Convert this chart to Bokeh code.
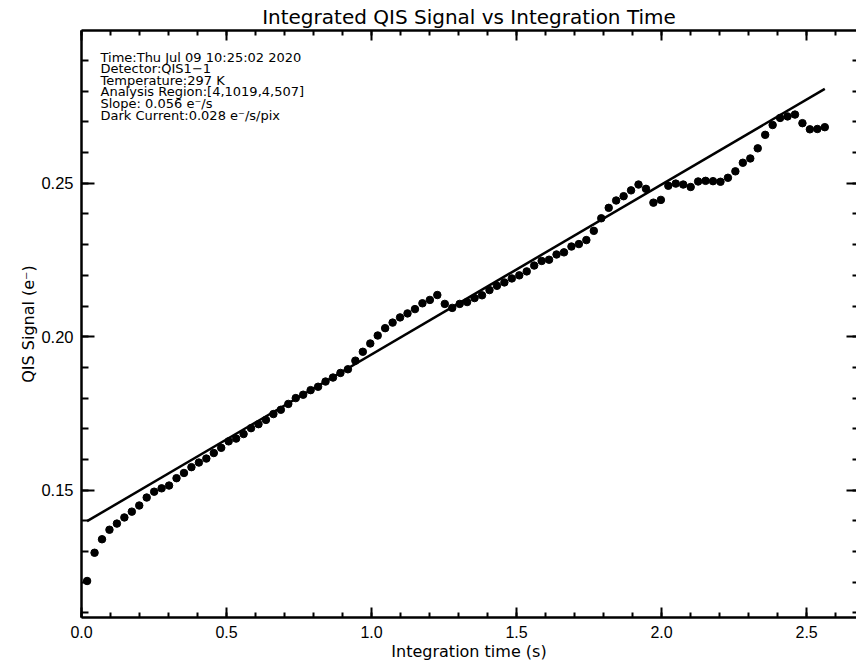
from bokeh.plotting import figure
from bokeh.models import (Range1d, LinearAxis, SingleIntervalTicker, NumeralTickFormatter,
                          CustomJSTickFormatter, Title, Label)
from bokeh.embed import file_html
from bokeh.resources import INLINE

# ---------------- data ----------------
integration_time = [
    0.0193, 0.0450, 0.0707, 0.0964, 0.1221, 0.1478, 0.1735, 0.1991, 0.2248, 0.2505,
    0.2762, 0.3019, 0.3276, 0.3533, 0.3790, 0.4047, 0.4304, 0.4561, 0.4817, 0.5074,
    0.5331, 0.5588, 0.5845, 0.6102, 0.6359, 0.6616, 0.6873, 0.7130, 0.7387, 0.7643,
    0.7900, 0.8157, 0.8414, 0.8671, 0.8928, 0.9185, 0.9442, 0.9699, 0.9956, 1.0213,
    1.0469, 1.0726, 1.0983, 1.1240, 1.1497, 1.1754, 1.2011, 1.2268, 1.2525, 1.2782,
    1.3039, 1.3295, 1.3552, 1.3809, 1.4066, 1.4323, 1.4580, 1.4837, 1.5094, 1.5351,
    1.5608, 1.5865, 1.6121, 1.6378, 1.6635, 1.6892, 1.7149, 1.7406, 1.7663, 1.7920,
    1.8177, 1.8434, 1.8691, 1.8947, 1.9204, 1.9461, 1.9718, 1.9975, 2.0232, 2.0489,
    2.0746, 2.1003, 2.1260, 2.1517, 2.1773, 2.2030, 2.2287, 2.2544, 2.2801, 2.3058,
    2.3315, 2.3572, 2.3829, 2.4086, 2.4343, 2.4599, 2.4856, 2.5113, 2.5370, 2.5627,
]
qis_signal = [
    0.1204, 0.1296, 0.1340, 0.1371, 0.1391, 0.1411, 0.1430, 0.1450, 0.1476, 0.1495,
    0.1506, 0.1515, 0.1539, 0.1556, 0.1575, 0.1590, 0.1603, 0.1621, 0.1638, 0.1659,
    0.1668, 0.1683, 0.1702, 0.1715, 0.1729, 0.1748, 0.1762, 0.1781, 0.1800, 0.1811,
    0.1826, 0.1837, 0.1854, 0.1867, 0.1882, 0.1894, 0.1922, 0.1951, 0.1978, 0.2004,
    0.2028, 0.2046, 0.2063, 0.2076, 0.2090, 0.2109, 0.2120, 0.2136, 0.2107, 0.2094,
    0.2107, 0.2113, 0.2126, 0.2135, 0.2152, 0.2166, 0.2177, 0.2190, 0.2200, 0.2213,
    0.2232, 0.2247, 0.2251, 0.2268, 0.2275, 0.2294, 0.2302, 0.2315, 0.2345, 0.2386,
    0.2420, 0.2444, 0.2458, 0.2477, 0.2496, 0.2482, 0.2437, 0.2446, 0.2492, 0.2499,
    0.2496, 0.2488, 0.2506, 0.2508, 0.2507, 0.2505, 0.2518, 0.2539, 0.2567, 0.2581,
    0.2614, 0.2658, 0.2690, 0.2713, 0.2718, 0.2724, 0.2696, 0.2676, 0.2677, 0.2683,
]
fit_x = [0.0193, 2.5627]
fit_y = [0.1399, 0.2808]

info_lines = [
    "Time:Thu Jul 09 10:25:02 2020",
    "Detector:QIS1\u22121",
    "Temperature:297 K",
    "Analysis Region:[4,1019,4,507]",
    "Slope: 0.056 e\u207b/s",
    "Dark Current:0.028 e\u207b/s/pix",
]
title_text = "Integrated QIS Signal vs Integration Time"
x_label = "Integration time (s)"
y_label = "QIS Signal (e\u207b)"

# ---------------- layout ----------------
X_START, X_END = 0.0, 2.672
Y_START, Y_END = 0.1085, 0.2998
W, H = 856, 668
LEFT, RIGHT, TOP, BOTTOM = 81, 0, 30, 51
FRAME_W = W - LEFT - RIGHT
FRAME_H = H - TOP - BOTTOM

HERSHEY = "DejaVu Sans"
TICKFONT = "Liberation Sans"

p = figure(width=W, height=H, output_backend="svg", toolbar_location=None,
           x_range=Range1d(X_START, X_END), y_range=Range1d(Y_START, Y_END),
           x_axis_location=None, y_axis_location=None,
           min_border_left=LEFT, min_border_right=RIGHT,
           min_border_top=TOP, min_border_bottom=BOTTOM)
p.grid.visible = False
p.outline_line_color = None
p.background_fill_color = "white"
p.border_fill_color = "white"

blank = CustomJSTickFormatter(code="return ''")


def style(ax, tin, tmin, line=True):
    ax.axis_line_width = 2.5
    ax.axis_line_color = "black" if line else None
    ax.major_tick_line_width = 2
    ax.minor_tick_line_width = 2
    ax.major_tick_line_color = "black"
    ax.minor_tick_line_color = "black"
    ax.major_tick_in = tin
    ax.major_tick_out = 0
    ax.minor_tick_in = tmin
    ax.minor_tick_out = 0


# bottom
xb = LinearAxis(ticker=SingleIntervalTicker(interval=0.5, num_minor_ticks=5),
                formatter=NumeralTickFormatter(format="0.0"), axis_label=x_label)
style(xb, 10, 5)
xb.major_label_text_font = TICKFONT
xb.major_label_text_font_size = "16px"
xb.major_label_text_color = "black"
xb.major_label_standoff = 8
xb.axis_label_text_font = HERSHEY
xb.axis_label_text_font_size = "16px"
xb.axis_label_text_font_style = "normal"
xb.axis_label_text_color = "black"
xb.axis_label_standoff = 1
p.add_layout(xb, "below")

# left
yl = LinearAxis(ticker=SingleIntervalTicker(interval=0.05, num_minor_ticks=5),
                formatter=NumeralTickFormatter(format="0.00"), axis_label=y_label)
style(yl, 13, 7)
yl.major_label_text_font = TICKFONT
yl.major_label_text_font_size = "16.5px"
yl.major_label_text_color = "black"
yl.major_label_standoff = 8
yl.axis_label_text_font = HERSHEY
yl.axis_label_text_font_size = "16px"
yl.axis_label_text_font_style = "normal"
yl.axis_label_text_color = "black"
yl.axis_label_standoff = 0
p.add_layout(yl, "left")

# top
xt = LinearAxis(ticker=SingleIntervalTicker(interval=0.5, num_minor_ticks=5), formatter=blank)
style(xt, 10, 5)
xt.major_label_standoff = 0
p.add_layout(xt, "above")

# right
yr = LinearAxis(ticker=SingleIntervalTicker(interval=0.05, num_minor_ticks=5), formatter=blank)
style(yr, 10, 4, line=False)
yr.major_label_standoff = 0
p.add_layout(yr, "right")

# title
p.add_layout(Title(text=title_text, align="center", text_font=HERSHEY,
                   text_font_size="20px", text_font_style="normal",
                   text_color="black", offset=0, standoff=4), "above")

# data
p.line(fit_x, fit_y, line_width=2.5, line_color="black")
p.scatter(integration_time, qis_signal, size=7.5, marker="circle",
          fill_color="black", line_color="black")


def px_to_data(px, py):
    x = X_START + (px - LEFT) * (X_END - X_START) / FRAME_W
    y = Y_END - (py - TOP) * (Y_END - Y_START) / FRAME_H
    return x, y


base_px, base_py, step = 100, 56.5, 11.6
for i, line in enumerate(info_lines):
    lx, ly = px_to_data(base_px, base_py + i * step)
    p.add_layout(Label(x=lx, y=ly, text=line, text_font=HERSHEY, text_font_size="13px",
                       text_color="black", text_baseline="alphabetic", text_align="left"))

open("out.html", "w").write(file_html(p, INLINE))
